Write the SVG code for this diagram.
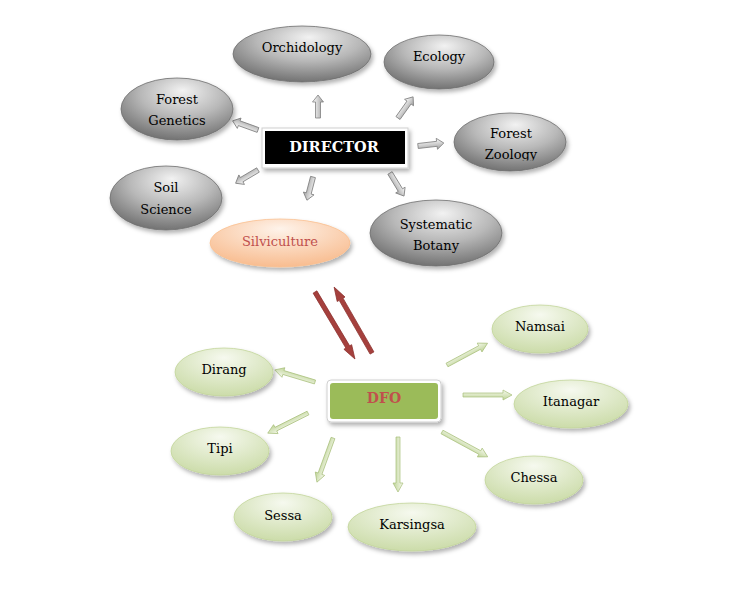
<svg xmlns="http://www.w3.org/2000/svg" width="737" height="611" viewBox="0 0 737 611">
<defs>
<style>
.t{font-family:"DejaVu Serif","Liberation Serif",serif;font-size:13px;fill:#000;text-anchor:middle;dominant-baseline:central}
.gray{fill:url(#gGray);stroke:#6f6f6f;stroke-width:0.8;filter:url(#sh)}
.green{fill:url(#gGreen);stroke:#c3d69b;stroke-width:0.8;filter:url(#sh)}
.ga{fill:url(#gArrG);stroke:#808080;stroke-width:0.8}
.na{fill:url(#gArrN);stroke:#a8bf7a;stroke-width:0.7}
.ra{fill:#a5403d;stroke:#8b2f2c;stroke-width:0.7}
</style>
<filter id="sh" x="-20%" y="-20%" width="150%" height="160%">
<feDropShadow dx="2" dy="3" stdDeviation="2" flood-color="#000" flood-opacity="0.3"/>
</filter>
<radialGradient id="gGray" cx="0.55" cy="0.3" r="0.75" fx="0.55" fy="0.2">
<stop offset="0" stop-color="#f2f2f2"/>
<stop offset="0.5" stop-color="#b8b8b8"/>
<stop offset="1" stop-color="#6a6a6a"/>
</radialGradient>
<radialGradient id="gGreen" cx="0.5" cy="0.3" r="0.75" fx="0.5" fy="0.2">
<stop offset="0" stop-color="#f6f9ef"/>
<stop offset="1" stop-color="#c9daa5"/>
</radialGradient>
<radialGradient id="gPeach" cx="0.5" cy="0.3" r="0.75" fx="0.5" fy="0.2">
<stop offset="0" stop-color="#fef3ea"/>
<stop offset="1" stop-color="#f8b98a"/>
</radialGradient>
<linearGradient id="gArrG" x1="0" y1="0" x2="0" y2="1">
<stop offset="0" stop-color="#ffffff"/>
<stop offset="1" stop-color="#a0a0a0"/>
</linearGradient>
<linearGradient id="gArrN" x1="0" y1="0" x2="0" y2="1">
<stop offset="0" stop-color="#f6f9ee"/>
<stop offset="1" stop-color="#bfd497"/>
</linearGradient>
<clipPath id="clipZ"><rect x="450" y="140" width="120" height="20.5"/></clipPath>
</defs>
<rect width="737" height="611" fill="#fff"/>

<g id="connectors">
<path class="ga" d="M0,-2.5 H16 V-5.5 L23,0 L16,5.5 V2.5 H0 Z" transform="translate(318,118) rotate(-90)"/>
<path class="ga" d="M0,-2.5 H19 V-5.5 L26,0 L19,5.5 V2.5 H0 Z" transform="translate(398,118) rotate(-54.5)"/>
<path class="ga" d="M0,-2.5 H20 V-5.5 L27,0 L20,5.5 V2.5 H0 Z" transform="translate(258,130) rotate(199.8)"/>
<path class="ga" d="M0,-2.5 H19 V-5.5 L26,0 L19,5.5 V2.5 H0 Z" transform="translate(418,146) rotate(-6.6)"/>
<path class="ga" d="M0,-2.5 H19 V-5.5 L26,0 L19,5.5 V2.5 H0 Z" transform="translate(258,170) rotate(149.4)"/>
<path class="ga" d="M0,-2.5 H17 V-5.5 L24,0 L17,5.5 V2.5 H0 Z" transform="translate(313,177) rotate(104.6)"/>
<path class="ga" d="M0,-2.5 H20 V-5.5 L27,0 L20,5.5 V2.5 H0 Z" transform="translate(390,173) rotate(58.7)"/>

<path class="ra" d="M0,-2.2 H64 V-4.5 L78,0 L64,4.5 V2.2 H0 Z" transform="translate(315,292) rotate(59.2)"/>
<path class="ra" d="M0,-2.2 H62 V-4.5 L76,0 L62,4.5 V2.2 H0 Z" transform="translate(372,353) rotate(-119.9)"/>

<path class="na" d="M0,-2 H33 V-5 L42,0 L33,5 V2 H0 Z" transform="translate(315,382) rotate(196.7)"/>
<path class="na" d="M0,-2 H37 V-5 L46,0 L37,5 V2 H0 Z" transform="translate(447,365) rotate(-28.2)"/>
<path class="na" d="M0,-2 H40 V-5 L49,0 L40,5 V2 H0 Z" transform="translate(463,395)"/>
<path class="na" d="M0,-2 H36 V-5 L45,0 L36,5 V2 H0 Z" transform="translate(308,413) rotate(153.4)"/>
<path class="na" d="M0,-2 H38 V-5 L47,0 L38,5 V2 H0 Z" transform="translate(333,438) rotate(110)"/>
<path class="na" d="M0,-2 H46 V-5 L55,0 L46,5 V2 H0 Z" transform="translate(398,437) rotate(90)"/>
<path class="na" d="M0,-2 H43 V-5 L52,0 L43,5 V2 H0 Z" transform="translate(442,432) rotate(28.5)"/>
</g>

<g id="director">
<rect x="262" y="128" width="146" height="40" fill="#fff" stroke="#d0d0d0" stroke-width="1" filter="url(#sh)"/>
<rect x="265" y="131" width="140" height="33" fill="#000"/>
<text class="t" x="334" y="146" style="fill:#fff;font-weight:bold;font-size:14.5px">DIRECTOR</text>
</g>
<g id="orchidology">
<ellipse class="gray" cx="302" cy="54" rx="69" ry="28"/>
<text class="t" x="302" y="47">Orchidology</text>
</g>
<g id="ecology">
<ellipse class="gray" cx="439" cy="62" rx="55" ry="27"/>
<text class="t" x="439" y="56">Ecology</text>
</g>
<g id="forest-genetics">
<ellipse class="gray" cx="177" cy="109" rx="56" ry="31"/>
<text class="t" x="177" y="99">Forest</text>
<text class="t" x="177" y="120">Genetics</text>
</g>
<g id="forest-zoology">
<ellipse class="gray" cx="510" cy="142" rx="56" ry="29"/>
<text class="t" x="511" y="133">Forest</text>
<text class="t" x="511" y="154.5" clip-path="url(#clipZ)">Zoology</text>
</g>
<g id="soil-science">
<ellipse class="gray" cx="166" cy="198" rx="56" ry="32"/>
<text class="t" x="166" y="187">Soil</text>
<text class="t" x="166" y="209">Science</text>
</g>
<g id="silviculture">
<ellipse cx="280" cy="243" rx="70" ry="24" fill="url(#gPeach)" stroke="#fac090" stroke-width="0.8" filter="url(#sh)"/>
<text class="t" x="280" y="241" style="fill:#c0504d">Silviculture</text>
</g>
<g id="systematic-botany">
<ellipse class="gray" cx="436" cy="233" rx="66" ry="33"/>
<text class="t" x="436" y="224">Systematic</text>
<text class="t" x="436" y="245">Botany</text>
</g>

<g id="dfo">
<rect x="327" y="380" width="114" height="42" rx="4" fill="#fff" stroke="#d0d0d0" stroke-width="1" filter="url(#sh)"/>
<rect x="330" y="383" width="108" height="36" rx="3" fill="#9bbb59"/>
<text class="t" x="384" y="398" style="fill:#c0504d;font-weight:bold;font-size:14px">DFO</text>
</g>
<g id="namsai">
<ellipse class="green" cx="540" cy="329" rx="48" ry="24"/>
<text class="t" x="540" y="326">Namsai</text>
</g>
<g id="dirang">
<ellipse class="green" cx="224" cy="372" rx="49" ry="24"/>
<text class="t" x="224" y="369">Dirang</text>
</g>
<g id="itanagar">
<ellipse class="green" cx="571" cy="404" rx="57" ry="24"/>
<text class="t" x="571" y="401">Itanagar</text>
</g>
<g id="tipi">
<ellipse class="green" cx="220" cy="451" rx="49" ry="24"/>
<text class="t" x="220" y="448">Tipi</text>
</g>
<g id="chessa">
<ellipse class="green" cx="534" cy="480" rx="49" ry="24"/>
<text class="t" x="534" y="477">Chessa</text>
</g>
<g id="sessa">
<ellipse class="green" cx="283" cy="517" rx="49" ry="24"/>
<text class="t" x="283" y="515">Sessa</text>
</g>
<g id="karsingsa">
<ellipse class="green" cx="412" cy="527" rx="64" ry="24"/>
<text class="t" x="412" y="524">Karsingsa</text>
</g>
</svg>
